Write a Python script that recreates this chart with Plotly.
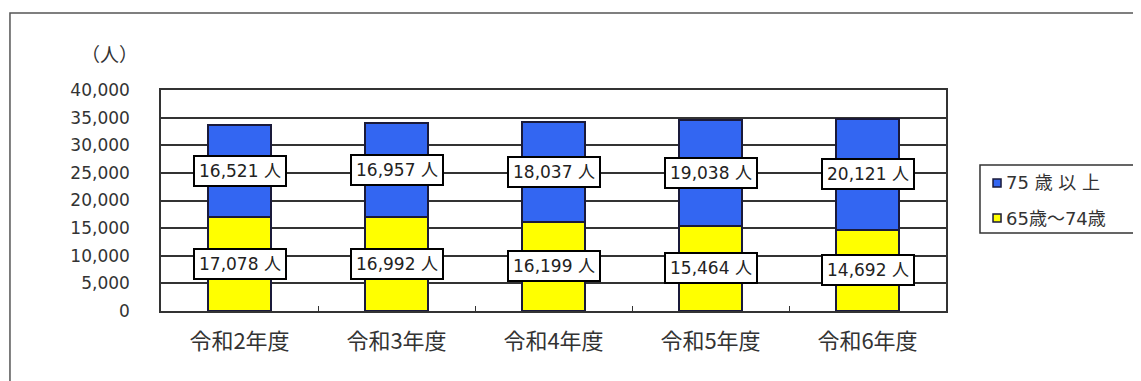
import plotly.graph_objects as go

categories = ["令和2年度", "令和3年度", "令和4年度", "令和5年度", "令和6年度"]
age_65_74 = [17078, 16992, 16199, 15464, 14692]
age_75_plus = [16521, 16957, 18037, 19038, 20121]
series_names = ["75 歳 以 上", "65歳～74歳"]
y_ticks = [0, 5000, 10000, 15000, 20000, 25000, 30000, 35000, 40000]
y_tick_labels = [f"{v:,}" for v in y_ticks]

FONT = "DejaVu Sans, Noto Sans CJK JP"
CJK = "Noto Sans CJK JP"
BLUE = "#3366f2"
YELLOW = "#ffff00"
EDGE = "#1a1a3a"
TXT = "#333333"

fig = go.Figure()
fig.add_trace(go.Bar(
    x=categories, y=age_65_74, name=series_names[1],
    marker=dict(color=YELLOW, line=dict(color=EDGE, width=2)),
    width=0.4, showlegend=False,
))
fig.add_trace(go.Bar(
    x=categories, y=age_75_plus, name=series_names[0],
    marker=dict(color=BLUE, line=dict(color=EDGE, width=2)),
    width=0.4, showlegend=False,
))

annotations = []
for c, a, b in zip(categories, age_65_74, age_75_plus):
    for val, mid in ((a, a / 2), (b, a + b / 2)):
        annotations.append(dict(
            x=c, y=mid, xref="x", yref="y", showarrow=False,
            text=f"{val:,} 人", font=dict(family=FONT, size=17, color="#222"),
            bgcolor="white", bordercolor="black", borderwidth=2, borderpad=4,
        ))
annotations.append(dict(
    x=-0.065, y=1.167, xref="paper", yref="paper", xanchor="center", yanchor="middle",
    showarrow=False, text="（人）", font=dict(family=CJK, size=19, color=TXT),
))

# manual legend (small square keys like the original)
shapes = [
    dict(type="rect", xref="paper", yref="paper",
         x0=-0.1924, x1=1.30, y0=-0.5, y1=1.348,
         line=dict(color="#555", width=1.5), layer="below"),
    dict(type="rect", xref="paper", yref="paper",
         x0=1.0433, x1=1.2408, y0=0.3529, y1=0.6606,
         line=dict(color="#333", width=1.5), fillcolor="white"),
]
legend_rows = [(series_names[0], BLUE, 0.5792), (series_names[1], YELLOW, 0.4208)]
for name, col, yc in legend_rows:
    shapes.append(dict(type="rect", xref="paper", yref="paper",
                       x0=1.0599, x1=1.0701, y0=yc - 0.0181, y1=yc + 0.0181,
                       line=dict(color=EDGE, width=1.5), fillcolor=col))
    annotations.append(dict(
        x=1.0739, y=yc, xref="paper", yref="paper", xanchor="left", yanchor="middle",
        showarrow=False, text=name, font=dict(family=FONT, size=18, color=TXT),
    ))

fig.update_layout(
    barmode="stack",
    width=1141, height=381,
    margin=dict(l=153, r=203, t=82, b=78),
    paper_bgcolor="white", plot_bgcolor="white",
    font=dict(family=FONT, size=16, color=TXT),
    showlegend=False,
    annotations=annotations,
    shapes=shapes,
)
fig.update_xaxes(
    showline=True, linecolor="#333", linewidth=1.5, mirror=True,
    ticks="inside", tickson="boundaries", ticklen=5, tickcolor="#333",
    tickfont=dict(family=CJK, size=22, color=TXT),
    ticklabelstandoff=10,
)
fig.update_yaxes(
    range=[0, 40000], tickvals=y_ticks, ticktext=y_tick_labels,
    showgrid=True, gridcolor="#333", gridwidth=1.5,
    showline=True, linecolor="#333", linewidth=1.5, mirror=True,
    ticks="", ticklabelstandoff=26,
    tickfont=dict(family=FONT, size=17, color=TXT),
    zeroline=False,
)

fig.write_html("out.html")
